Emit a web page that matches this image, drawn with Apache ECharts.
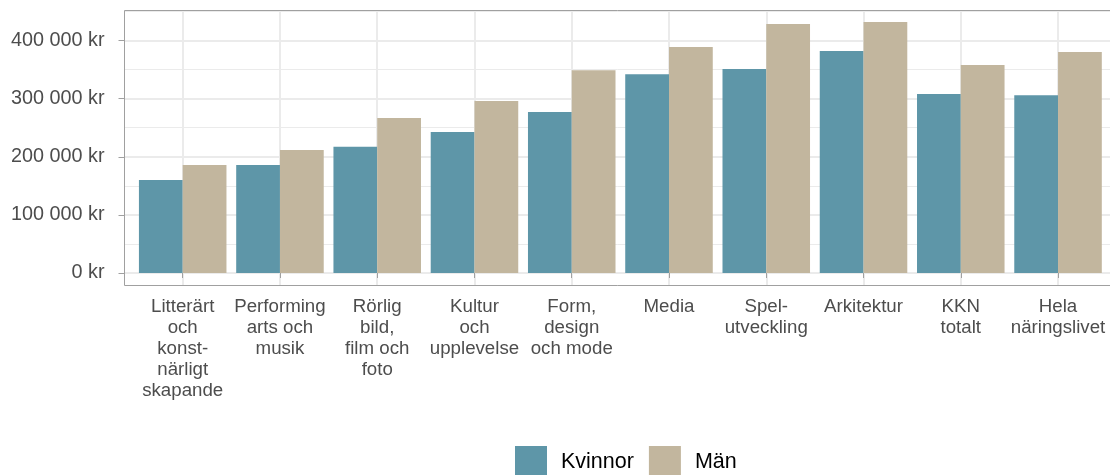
<!DOCTYPE html>
<html>
<head>
<meta charset="utf-8">
<script src="https://cdn.jsdelivr.net/npm/echarts@6/dist/echarts.min.js"></script>
<style>
html,body{margin:0;padding:0;background:#fff;}
#chart{width:1110px;height:475px;}
</style>
</head>
<body>
<div id="chart"></div>
<script>
const categories = [
  "Litterärt\noch\nkonst-\nnärligt\nskapande",
  "Performing\narts och\nmusik",
  "Rörlig\nbild,\nfilm och\nfoto",
  "Kultur\noch\nupplevelse",
  "Form,\ndesign\noch mode",
  "Media",
  "Spel-\nutveckling",
  "Arkitektur",
  "KKN\ntotalt",
  "Hela\nnäringslivet"
];
const kvinnor = [160000, 186000, 217000, 242500, 277000, 342000, 351000, 382000, 308000, 306000];
const man = [186000, 211500, 266500, 296000, 349000, 389000, 428500, 432000, 358000, 380000];
const yTicks = [0, 100000, 200000, 300000, 400000];
const seriesNames = ["Kvinnor", "Män"];

const FONT = "Liberation Sans, Arial, Helvetica, sans-serif";
const fmtKr = v => String(Math.round(v)).replace(/\B(?=(\d{3})+(?!\d))/g, " ") + " kr";

const chart = echarts.init(document.getElementById('chart'), null, {renderer: 'canvas'});
const option = {
  animation: false,
  backgroundColor: '#ffffff',
  textStyle: {fontFamily: FONT},
  graphic: [{
    type: 'rect',
    z: 100,
    silent: true,
    shape: {x: 124.5, y: 10.5, width: 1000, height: 275},
    style: {fill: 'none', stroke: '#a0a0a0', lineWidth: 1}
  }],
  grid: [
    {left: 134.07, width: 972.6, top: 10.5, height: 275},
    {left: 124.5, width: 992, top: 11.44, height: 261.56}
  ],
  xAxis: [
    {
      type: 'category', gridIndex: 0, data: categories,
      axisLine: {show: false},
      axisTick: {show: true, alignWithLabel: true, length: 5, lineStyle: {color: '#a0a0a0', width: 1}},
      splitLine: {show: true, alignWithLabel: true, lineStyle: {color: '#ebebeb', width: 2}},
      axisLabel: {
        interval: 0, margin: 11, fontSize: 18.7, lineHeight: 21, color: '#4d4d4d',
        fontFamily: FONT, align: 'center'
      }
    },
    {type: 'value', gridIndex: 1, show: false, min: 0, max: 1}
  ],
  yAxis: [
    {type: 'value', gridIndex: 0, show: false, min: -21505, max: 451605},
    {
      type: 'value', gridIndex: 1, position: 'left', min: 0, max: 450000, interval: 50000,
      axisLine: {show: false}, axisTick: {show: false}, axisLabel: {show: false},
      splitLine: {show: true, lineStyle: {color: '#ebebeb', width: 1}}
    },
    {
      type: 'value', gridIndex: 1, position: 'left', offset: 0, min: 0, max: 450000, interval: 100000,
      axisLine: {show: false},
      axisTick: {show: true, length: 6, customValues: yTicks, lineStyle: {color: '#a0a0a0', width: 1}},
      axisLabel: {
        show: true, margin: 20, fontSize: 19.8, color: '#4d4d4d', fontFamily: FONT,
        customValues: yTicks, formatter: fmtKr
      },
      splitLine: {show: true, lineStyle: {color: '#ebebeb', width: 2}}
    }
  ],
  legend: {
    left: 515, top: 446, padding: 0,
    itemWidth: 32, itemHeight: 32, itemGap: 15,
    icon: 'rect',
    data: seriesNames,
    textStyle: {fontSize: 21.5, color: '#000000', fontFamily: FONT, padding: [0, 0, 0, 9]}
  },
  series: [
    {
      name: seriesNames[0], type: 'bar', xAxisIndex: 0, yAxisIndex: 0,
      data: kvinnor, barGap: '0%', barCategoryGap: '10%',
      itemStyle: {color: '#5e96a8'}
    },
    {
      name: seriesNames[1], type: 'bar', xAxisIndex: 0, yAxisIndex: 0,
      data: man, barGap: '0%', barCategoryGap: '10%',
      itemStyle: {color: '#c2b69e'}
    }
  ]
};
chart.setOption(option);
</script>
</body>
</html>
